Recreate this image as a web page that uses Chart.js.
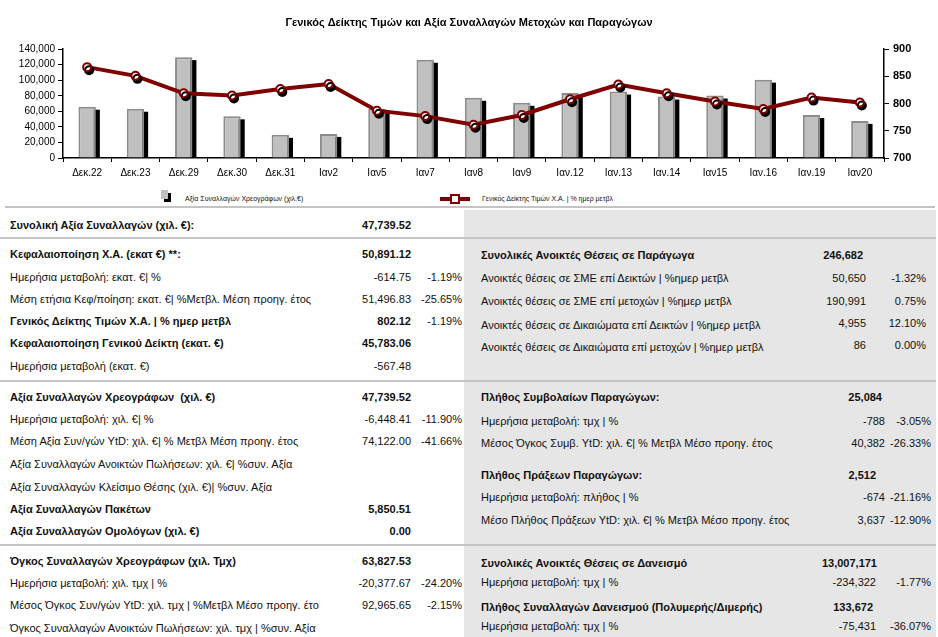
<!DOCTYPE html>
<html lang="el">
<head>
<meta charset="utf-8">
<title>Γενικός Δείκτης Τιμών και Αξία Συναλλαγών</title>
<script src="https://cdn.jsdelivr.net/npm/chart.js@4.4.1/dist/chart.umd.min.js"></script>
<style>
  html, body { margin: 0; padding: 0; background: #fff; }
  body { width: 938px; height: 637px; position: relative; overflow: hidden;
         font-family: "Liberation Sans", Arial, sans-serif; color: #111; }
  #chartBox { position: absolute; left: 0; top: 0; width: 938px; height: 190px; }
  .legend-text { position: absolute; font-size: 7px; top: 195px; white-space: nowrap; }
  .hr { position: absolute; height: 2px; background: #c4c4c4; }
  #rightPanel { position: absolute; left: 464px; top: 210px; width: 472px; height: 427px; background: #e6e6e6; }
  #leftPanel { position: absolute; left: 0; top: 210px; width: 464px; height: 427px; }
  .row { position: absolute; left: 0; right: 0; height: 14px; line-height: 14px; font-size: 11px; white-space: nowrap; }
  .row .lbl { position: absolute; left: 10px; }
  #rightPanel .row .lbl { left: 17px; }
  .row .val, .row .pct { position: absolute; text-align: right; }
  .b { font-weight: bold; }
</style>
</head>
<body>

<div id="chartBox"><canvas id="chart"></canvas></div>

<!-- legend -->
<div style="position:absolute;left:164px;top:193px;width:7px;height:9px;background:#000;"></div>
<div style="position:absolute;left:161px;top:190px;width:7px;height:9px;background:#c0c0c0;"></div>
<div class="legend-text" style="left:185px;">Αξία Συναλλαγών Χρεογράφων (χιλ.€)</div>
<div style="position:absolute;left:440px;top:197px;width:30px;height:4px;background:#800000;"></div>
<div style="position:absolute;left:450px;top:194px;width:6px;height:6px;background:#fff;border:2px solid #800000;"></div>
<div class="legend-text" style="left:482px;">Γενικός Δείκτης Τιμών Χ.Α. | % ημερ μετβλ</div>
<div class="hr" style="left:5px;top:206px;width:930px;"></div>

<div id="rightPanel">
  <div class="row b" style="top:38px;"><span class="lbl">Συνολικές Ανοικτές Θέσεις σε Παράγωγα</span><span class="val" style="right:73px;">246,682</span></div>
  <div class="row" style="top:61px;"><span class="lbl">Ανοικτές θέσεις σε ΣΜΕ επί Δεικτών | %ημερ μετβλ</span><span class="val" style="right:70px;">50,650</span><span class="pct" style="right:10px;">-1.32%</span></div>
  <div class="row" style="top:84px;"><span class="lbl">Ανοικτές θέσεις σε ΣΜΕ επί μετοχών | %ημερ μετβλ</span><span class="val" style="right:70px;">190,991</span><span class="pct" style="right:10px;">0.75%</span></div>
  <div class="row" style="top:108px;"><span class="lbl">Ανοικτές θέσεις σε Δικαιώματα επί Δεικτών | %ημερ μετβλ</span><span class="val" style="right:70px;top:-2px;">4,955</span><span class="pct" style="right:10px;top:-2px;">12.10%</span></div>
  <div class="row" style="top:130px;"><span class="lbl">Ανοικτές θέσεις σε Δικαιώματα επί μετοχών | %ημερ μετβλ</span><span class="val" style="right:70px;top:-2px;">86</span><span class="pct" style="right:10px;top:-2px;">0.00%</span></div>

  <div class="row b" style="top:180px;"><span class="lbl">Πλήθος Συμβολαίων Παραγώγων:</span><span class="val" style="right:54px;">25,084</span></div>
  <div class="row" style="top:204px;"><span class="lbl">Ημερήσια μεταβολή: τμχ | %</span><span class="val" style="right:51px;">-788</span><span class="pct" style="right:5px;">-3.05%</span></div>
  <div class="row" style="top:226px;"><span class="lbl">Μέσος Όγκος Συμβ. YtD: χιλ. €| % Μετβλ Μέσο προηγ. έτος</span><span class="val" style="right:51px;">40,382</span><span class="pct" style="right:5px;">-26.33%</span></div>
  <div class="row b" style="top:258px;"><span class="lbl">Πλήθος Πράξεων Παραγώγων:</span><span class="val" style="right:60px;">2,512</span></div>
  <div class="row" style="top:280px;"><span class="lbl">Ημερήσια μεταβολή: πλήθος | %</span><span class="val" style="right:51px;">-674</span><span class="pct" style="right:5px;">-21.16%</span></div>
  <div class="row" style="top:303px;"><span class="lbl">Μέσο Πλήθος Πράξεων YtD: χιλ. €| % Μετβλ Μέσο προηγ. έτος</span><span class="val" style="right:51px;">3,637</span><span class="pct" style="right:5px;">-12.90%</span></div>

  <div class="row b" style="top:346px;"><span class="lbl">Συνολικές Ανοικτές Θέσεις σε Δανεισμό</span><span class="val" style="right:59px;">13,007,171</span></div>
  <div class="row" style="top:365px;"><span class="lbl">Ημερήσια μεταβολή: τμχ | %</span><span class="val" style="right:60px;">-234,322</span><span class="pct" style="right:5px;">-1.77%</span></div>
  <div class="row b" style="top:390px;"><span class="lbl">Πλήθος Συναλλαγών Δανεισμού (Πολυμερής/Διμερής)</span><span class="val" style="right:63px;">133,672</span></div>
  <div class="row" style="top:409px;"><span class="lbl">Ημερήσια μεταβολή: τμχ | %</span><span class="val" style="right:60px;">-75,431</span><span class="pct" style="right:5px;">-36.07%</span></div>
</div>

<div id="leftPanel">
  <div class="row b" style="top:8px;"><span class="lbl">Συνολική Αξία Συναλλαγών (χιλ. €):</span><span class="val" style="right:53px;">47,739.52</span></div>

  <div class="row b" style="top:37px;"><span class="lbl">Κεφαλαιοποίηση Χ.Α. (εκατ €) **:</span><span class="val" style="right:53px;">50,891.12</span></div>
  <div class="row" style="top:60px;"><span class="lbl">Ημερήσια μεταβολή: εκατ. €| %</span><span class="val" style="right:53px;">-614.75</span><span class="pct" style="right:2px;">-1.19%</span></div>
  <div class="row" style="top:82px;"><span class="lbl">Μέση ετήσια Κεφ/ποίηση: εκατ. €| %Μετβλ. Μέση προηγ. έτος</span><span class="val" style="right:53px;">51,496.83</span><span class="pct" style="right:2px;">-25.65%</span></div>
  <div class="row" style="top:104px;"><span class="lbl b">Γενικός Δείκτης Τιμών Χ.Α. | % ημερ μετβλ</span><span class="val b" style="right:53px;">802.12</span><span class="pct" style="right:2px;">-1.19%</span></div>
  <div class="row b" style="top:126px;"><span class="lbl">Κεφαλαιοποίηση Γενικού Δείκτη (εκατ. €)</span><span class="val" style="right:53px;">45,783.06</span></div>
  <div class="row" style="top:149px;"><span class="lbl">Ημερήσια μεταβολή (εκατ. €)</span><span class="val" style="right:53px;">-567.48</span></div>

  <div class="row b" style="top:180px;"><span class="lbl">Αξία Συναλλαγών Χρεογράφων &nbsp;(χιλ. €)</span><span class="val" style="right:53px;">47,739.52</span></div>
  <div class="row" style="top:202px;"><span class="lbl">Ημερήσια μεταβολή: χιλ. €| %</span><span class="val" style="right:53px;">-6,448.41</span><span class="pct" style="right:2px;">-11.90%</span></div>
  <div class="row" style="top:224px;"><span class="lbl">Μέση Αξία Συν/γών YtD: χιλ. €| % Μετβλ Μέση προηγ. έτος</span><span class="val" style="right:53px;">74,122.00</span><span class="pct" style="right:2px;">-41.66%</span></div>
  <div class="row" style="top:247px;"><span class="lbl">Αξία Συναλλαγών Ανοικτών Πωλήσεων: χιλ. €| %συν. Αξία</span></div>
  <div class="row" style="top:270px;"><span class="lbl">Αξία Συναλλαγών Κλείσιμο Θέσης (χιλ. €)| %συν. Αξία</span></div>
  <div class="row b" style="top:292px;"><span class="lbl">Αξία Συναλλαγών Πακέτων</span><span class="val" style="right:53px;">5,850.51</span></div>
  <div class="row b" style="top:314px;"><span class="lbl">Αξία Συναλλαγών Ομολόγων (χιλ. €)</span><span class="val" style="right:53px;">0.00</span></div>

  <div class="row b" style="top:344px;"><span class="lbl">Όγκος Συναλλαγών Χρεογράφων (χιλ. Τμχ)</span><span class="val" style="right:53px;">63,827.53</span></div>
  <div class="row" style="top:366px;"><span class="lbl">Ημερήσια μεταβολή: χιλ. τμχ | %</span><span class="val" style="right:53px;">-20,377.67</span><span class="pct" style="right:2px;">-24.20%</span></div>
  <div class="row" style="top:388px;"><span class="lbl">Μέσος Όγκος Συν/γών YtD: χιλ. τμχ | %Μετβλ Μέσο προηγ. έτο</span><span class="val" style="right:53px;">92,965.65</span><span class="pct" style="right:2px;">-2.15%</span></div>
  <div class="row" style="top:411px;"><span class="lbl">Όγκος Συναλλαγών Ανοικτών Πωλήσεων: χιλ. τμχ | %συν. Αξία</span></div>
</div>

<!-- section separators -->
<div class="hr" style="left:0;top:237px;width:936px;"></div>
<div class="hr" style="left:0;top:380px;width:936px;"></div>
<div class="hr" style="left:0;top:544px;width:936px;"></div>

<script>
// chart data
const days = ['Δεκ.22', 'Δεκ.23', 'Δεκ.29', 'Δεκ.30', 'Δεκ.31', 'Ιαν2', 'Ιαν5', 'Ιαν7', 'Ιαν8',
  'Ιαν9', 'Ιαν.12', 'Ιαν.13', 'Ιαν.14', 'Ιαν15', 'Ιαν.16', 'Ιαν.19', 'Ιαν20'];
// Αξία Συναλλαγών Χρεογράφων (χιλ. €)
const tradeValue = [66000, 63400, 129800, 53600, 29800, 31000, 63500, 126400, 77500,
  71000, 83800, 85500, 79100, 80400, 100800, 55300, 47740];
// Γενικός Δείκτης Τιμών Χ.Α.
const indexValue = [867, 851, 819, 815, 827, 836, 787, 777, 761,
  779, 808, 835, 819, 804, 790, 811, 802.12];

const valueAxis = { min: 0, max: 140000, step: 20000 };
const indexAxis = { min: 700, max: 900, step: 50 };

const FONT = '"Liberation Sans", Arial, sans-serif';
const DARK_RED = '#800000';

// black drop shadow behind the bars and under the index markers
const dropShadow = {
  id: 'dropShadow',
  beforeDatasetDraw: function (chart, args, opts) {
    const ctx = chart.ctx;
    const ds = chart.data.datasets[args.index];
    if (args.meta.type === 'bar') {
      ctx.save();
      ctx.fillStyle = opts.color;
      args.meta.data.forEach(function (bar) {
        const p = bar.getProps(['x', 'y', 'base', 'width'], true);
        ctx.fillRect(p.x - p.width / 2 + opts.barDx, p.y + opts.barDy, p.width, p.base - p.y - opts.barDy);
      });
      ctx.restore();
    } else if (ds.markerShadow) {
      ctx.save();
      ctx.shadowColor = opts.color;
      ctx.shadowOffsetX = opts.pointDx;
      ctx.shadowOffsetY = opts.pointDy;
      ctx.shadowBlur = 0;
    }
  },
  afterDatasetDraw: function (chart, args) {
    if (chart.data.datasets[args.index].markerShadow) chart.ctx.restore();
  }
};

const fmt = function (v) {
  return v.toLocaleString('en-US');
};

new Chart(document.getElementById('chart'), {
  type: 'bar',
  data: {
    labels: days,
    datasets: [
      {
        label: 'Γενικός Δείκτης Τιμών Χ.Α. | % ημερ μετβλ',
        type: 'line',
        data: indexValue,
        yAxisID: 'y1',
        showLine: false,
        markerShadow: true,
        pointRadius: 4,
        pointBorderWidth: 2,
        pointBackgroundColor: '#fff',
        pointBorderColor: DARK_RED,
        order: 1
      },
      {
        label: 'Γενικός Δείκτης Τιμών Χ.Α.',
        type: 'line',
        data: indexValue,
        yAxisID: 'y1',
        borderColor: DARK_RED,
        borderWidth: 4,
        pointRadius: 0,
        tension: 0,
        order: 2
      },
      {
        label: 'Αξία Συναλλαγών Χρεογράφων (χιλ.€)',
        data: tradeValue,
        yAxisID: 'y',
        backgroundColor: '#c0c0c0',
        borderColor: '#8c8c8c',
        borderWidth: 2,
        barPercentage: 0.36,
        categoryPercentage: 1,
        order: 3
      }
    ]
  },
  options: {
    responsive: true,
    maintainAspectRatio: false,
    animation: false,
    layout: { padding: 0 },
    plugins: {
      legend: { display: false },
      tooltip: { enabled: false },
      title: {
        display: true,
        text: 'Γενικός Δείκτης Τιμών και Αξία Συναλλαγών Μετοχών και Παραγώγων',
        color: '#000',
        font: { family: FONT, size: 11, weight: 'bold' },
        padding: { top: 16, bottom: 20 }
      },
      dropShadow: { color: '#000', barDx: 4, barDy: 3, pointDx: 2, pointDy: 3 }
    },
    scales: {
      x: {
        afterFit: function (s) { s.height = 32; },
        border: { color: '#000', width: 1.5 },
        grid: { drawOnChartArea: false, tickLength: 4, color: '#000', offset: true },
        ticks: { color: '#000', font: { family: FONT, size: 10 }, padding: 5, maxRotation: 0, autoSkip: false }
      },
      y: {
        position: 'left',
        min: valueAxis.min,
        max: valueAxis.max,
        afterFit: function (s) { s.width = 63; },
        border: { color: '#000', width: 1.5 },
        grid: { drawOnChartArea: false, tickLength: 5, color: '#000' },
        ticks: { stepSize: valueAxis.step, color: '#000', font: { family: FONT, size: 10 }, padding: 3, callback: fmt }
      },
      y1: {
        position: 'right',
        min: indexAxis.min,
        max: indexAxis.max,
        afterFit: function (s) { s.width = 54; },
        border: { color: '#000', width: 1.5 },
        grid: { drawOnChartArea: false, tickLength: 5, color: '#000' },
        ticks: { stepSize: indexAxis.step, color: '#000', font: { family: FONT, size: 11, weight: 'bold' }, padding: 4 }
      }
    }
  },
  plugins: [dropShadow]
});
</script>
</body>
</html>
